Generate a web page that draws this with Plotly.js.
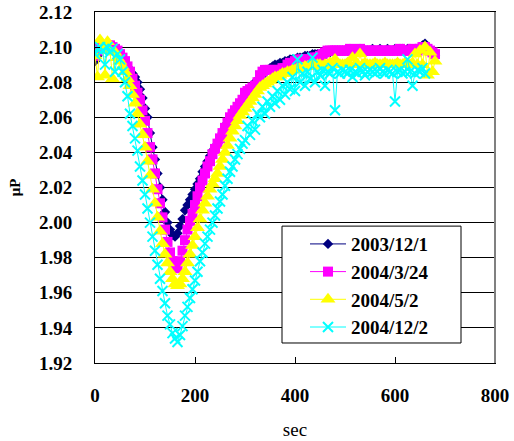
<!DOCTYPE html>
<html>
<head>
<meta charset="utf-8">
<script src="https://cdn.plot.ly/plotly-3.0.1.min.js"></script>
<style>html,body{margin:0;padding:0;background:#fff;}#chart{width:514px;height:441px;}</style>
</head>
<body>
<div id="chart"></div>
<script>
// time axis (sec)
const sec = [
  0,5,10,15,20,25,30,35,40,45,
  50,55,60,65,70,75,80,85,90,95,
  100,105,110,115,120,125,130,135,140,145,
  150,155,160,165,170,175,180,185,190,195,
  200,205,210,215,220,225,230,235,240,245,
  250,255,260,265,270,275,280,285,290,295,
  300,305,310,315,320,325,330,335,340,345,
  350,355,360,365,370,375,380,385,390,395,
  400,405,410,415,420,425,430,435,440,445,
  450,455,460,465,470,475,480,485,490,495,
  500,505,510,515,520,525,530,535,540,545,
  550,555,560,565,570,575,580,585,590,595,
  600,605,610,615,620,625,630,635,640,645,
  650,655,660,665,670,675,680
];

const seriesNames = ["2003/12/1", "2004/3/24", "2004/5/2", "2004/12/2"];

const s20031201 = [
  2.092,2.095,2.098,2.099,2.100,2.100,2.100,2.099,2.098,2.097,
  2.095,2.093,2.091,2.089,2.087,2.085,2.083,2.080,2.076,2.071,
  2.065,2.060,2.051,2.043,2.036,2.028,2.020,2.013,2.006,2.000,
  1.996,1.993,1.992,1.994,1.998,2.002,2.007,2.010,2.013,2.016,
  2.019,2.022,2.025,2.029,2.032,2.035,2.038,2.041,2.043,2.045,
  2.048,2.051,2.054,2.057,2.060,2.062,2.064,2.066,2.068,2.070,
  2.072,2.074,2.076,2.078,2.080,2.081,2.083,2.084,2.086,2.087,
  2.088,2.089,2.090,2.090,2.091,2.091,2.092,2.092,2.093,2.093,
  2.093,2.094,2.094,2.094,2.095,2.095,2.095,2.096,2.096,2.096,
  2.096,2.097,2.097,2.097,2.097,2.098,2.098,2.098,2.098,2.098,
  2.098,2.098,2.099,2.098,2.098,2.098,2.099,2.098,2.098,2.098,
  2.098,2.099,2.098,2.098,2.099,2.098,2.098,2.099,2.098,2.098,
  2.099,2.098,2.099,2.099,2.098,2.099,2.099,2.098,2.099,2.099,
  2.100,2.101,2.102,2.100,2.099,2.097,2.095
];

const s20040324 = [
  2.095,2.098,2.100,2.101,2.101,2.101,2.101,2.100,2.099,2.098,
  2.096,2.094,2.092,2.089,2.086,2.082,2.078,2.074,2.070,2.064,
  2.058,2.051,2.043,2.036,2.028,2.019,2.011,2.003,1.996,1.989,
  1.983,1.978,1.975,1.974,1.978,1.984,1.990,1.996,2.001,2.005,
  2.010,2.015,2.020,2.024,2.028,2.032,2.035,2.039,2.042,2.045,
  2.048,2.051,2.054,2.057,2.060,2.062,2.064,2.066,2.068,2.070,
  2.074,2.075,2.076,2.077,2.078,2.080,2.084,2.086,2.087,2.087,
  2.087,2.087,2.087,2.087,2.087,2.088,2.088,2.090,2.091,2.091,
  2.092,2.092,2.093,2.093,2.093,2.093,2.093,2.094,2.094,2.094,
  2.095,2.096,2.097,2.098,2.098,2.098,2.098,2.098,2.098,2.098,
  2.098,2.098,2.099,2.098,2.098,2.098,2.099,2.098,2.098,2.098,
  2.098,2.098,2.098,2.098,2.098,2.098,2.098,2.098,2.098,2.098,
  2.098,2.098,2.099,2.098,2.098,2.098,2.098,2.099,2.098,2.098,
  2.099,2.100,2.100,2.099,2.098,2.097,2.096
];

const s20040502 = [
  2.095,2.083,2.104,2.100,2.084,2.103,2.098,2.082,2.097,2.094,
  2.092,2.089,2.086,2.082,2.078,2.073,2.068,2.062,2.056,2.050,
  2.043,2.035,2.027,2.019,2.011,2.003,1.995,1.988,1.982,1.977,
  1.972,1.968,1.965,1.964,1.965,1.968,1.972,1.977,1.982,1.987,
  1.992,1.997,2.002,2.007,2.011,2.015,2.019,2.022,2.025,2.028,
  2.032,2.036,2.040,2.044,2.048,2.052,2.055,2.058,2.061,2.063,
  2.065,2.067,2.069,2.071,2.073,2.075,2.077,2.078,2.079,2.080,
  2.081,2.082,2.083,2.083,2.084,2.085,2.085,2.086,2.086,2.087,
  2.087,2.088,2.088,2.088,2.089,2.089,2.089,2.090,2.089,2.090,
  2.090,2.089,2.090,2.090,2.091,2.090,2.093,2.090,2.090,2.090,
  2.090,2.091,2.090,2.094,2.090,2.090,2.096,2.090,2.091,2.090,
  2.090,2.090,2.091,2.090,2.090,2.090,2.091,2.090,2.090,2.090,
  2.090,2.091,2.090,2.090,2.091,2.090,2.090,2.091,2.096,2.090,
  2.098,2.090,2.100,2.084,2.097,2.086,2.092
];

const s20041202 = [
  2.096,2.099,2.100,2.098,2.090,2.100,2.097,2.099,2.086,2.096,
  2.093,2.086,2.080,2.072,2.062,2.055,2.048,2.041,2.032,2.024,
  2.016,2.008,2.000,1.992,1.984,1.976,1.968,1.961,1.954,1.947,
  1.942,1.937,1.934,1.932,1.936,1.941,1.947,1.952,1.957,1.962,
  1.967,1.972,1.978,1.983,1.988,1.992,1.996,2.000,2.004,2.008,
  2.012,2.016,2.021,2.025,2.029,2.032,2.036,2.039,2.042,2.045,
  2.047,2.055,2.050,2.058,2.053,2.062,2.060,2.066,2.062,2.069,
  2.066,2.072,2.068,2.075,2.070,2.078,2.073,2.080,2.076,2.083,
  2.075,2.093,2.080,2.085,2.078,2.086,2.082,2.094,2.080,2.086,
  2.084,2.087,2.078,2.086,2.085,2.088,2.064,2.086,2.085,2.087,
  2.086,2.085,2.087,2.083,2.086,2.085,2.088,2.086,2.084,2.086,
  2.087,2.086,2.085,2.086,2.088,2.086,2.085,2.087,2.086,2.085,
  2.069,2.086,2.087,2.085,2.086,2.093,2.086,2.078,2.085,2.087,
  2.086,2.088,2.085
];

const yTicks = [1.92, 1.94, 1.96, 1.98, 2.00, 2.02, 2.04, 2.06, 2.08, 2.10, 2.12];
const xTicks = [0, 200, 400, 600, 800];

const serif = "Liberation Serif";
const boldFont = {family: serif, size: 19, color: '#000', weight: 'bold'};

const styles = [
  {color: '#000080', symbol: 'diamond', size: 8},
  {color: '#FF00FF', symbol: 'square', size: 10},
  {color: '#FFFF00', symbol: 'triangle-up', size: 13},
  {color: '#00FFFF', symbol: 'x-thin', size: 10}
];
const ys = [s20031201, s20040324, s20040502, s20041202];

const traces = ys.map((y, i) => ({
  type: 'scatter',
  mode: 'lines+markers',
  name: seriesNames[i],
  legendgroup: 'g' + i,
  x: sec.slice(0, y.length),
  y: y,
  line: {color: styles[i].color, width: 1},
  marker: {
    color: styles[i].color,
    symbol: styles[i].symbol,
    size: styles[i].size,
    line: {color: styles[i].color, width: styles[i].symbol === 'x-thin' ? 2 : 0}
  }
}));

const layout = {
  width: 514, height: 441,
  font: {family: serif, color: '#000'},
  margin: {l: 95, r: 19, t: 12, b: 78},
  paper_bgcolor: '#fff', plot_bgcolor: '#fff',
  showlegend: true,
  xaxis: {
    range: [0, 800], tickvals: xTicks, ticktext: xTicks.map(String),
    ticks: 'inside', ticklen: 6, tickcolor: '#000',
    showgrid: false, zeroline: false,
    showline: true, linecolor: '#000', linewidth: 1, mirror: true,
    tickfont: boldFont, ticklabelstandoff: 15,
    title: {text: 'sec', font: {family: serif, size: 19, color: '#000'}, standoff: 17}
  },
  yaxis: {
    range: [1.92, 2.12], tickvals: yTicks, ticktext: yTicks.map(v => v.toFixed(2)),
    ticks: 'inside', ticklen: 5, tickcolor: '#000',
    showgrid: true, gridcolor: '#000', gridwidth: 1, zeroline: false,
    showline: true, linecolor: '#000', linewidth: 1, mirror: true,
    tickfont: boldFont, ticklabelstandoff: 18,
    title: {text: 'μP', font: {family: serif, size: 15, color: '#000', weight: 'bold'}, standoff: 14}
  },
  legend: {
    x: 0.525, y: 0.393, xanchor: 'left', yanchor: 'top',
    bgcolor: 'rgba(0,0,0,0)', borderwidth: 0,
    font: {family: serif, size: 19, color: '#000', weight: 'bold'},
    itemwidth: 36, tracegroupgap: 0, traceorder: 'grouped'
  },
  shapes: [
    {type: 'rect', xref: 'paper', yref: 'paper', x0: 0.4675, x1: 0.915, y0: 0.057, y1: 0.390,
     fillcolor: '#fff', line: {color: '#000', width: 1}, layer: 'above'},
    {type: 'line', xref: 'paper', yref: 'paper', x0: 1, x1: 1, y0: 0, y1: 1,
     line: {color: '#808080', width: 2}}
  ]
};

Plotly.newPlot('chart', traces, layout, {displayModeBar: false, staticPlot: true});
</script>
</body>
</html>
